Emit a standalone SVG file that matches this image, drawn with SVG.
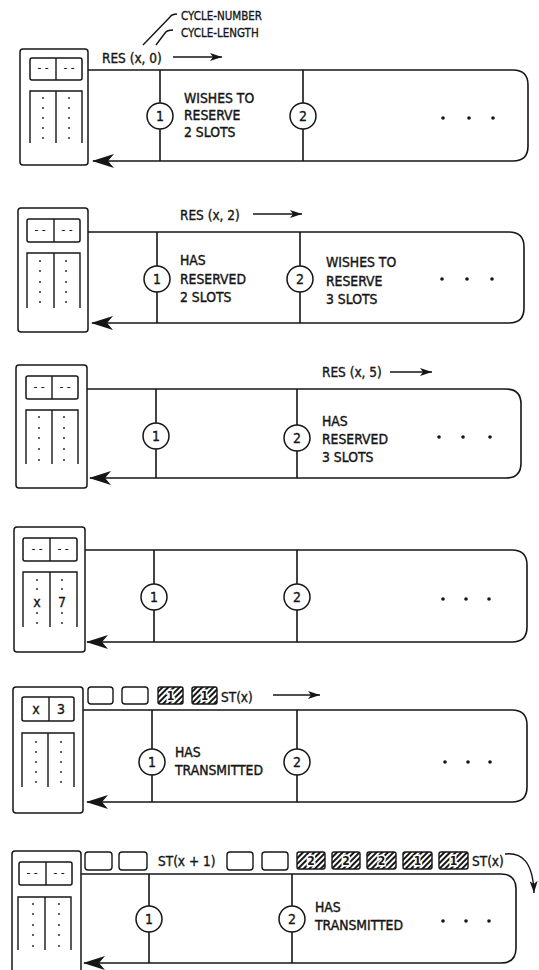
<svg xmlns="http://www.w3.org/2000/svg" width="539" height="970" viewBox="0 0 539 970">
<defs>
<style>
.ln{stroke:#161616;stroke-width:1.6;fill:none}
.bx{stroke:#161616;stroke-width:1.5;fill:#fff}
.cl{stroke:#161616;stroke-width:1.4;fill:none}
.st{stroke:#161616;stroke-width:1.5;fill:#fff}
.t{font-family:"Liberation Sans Narrow","DejaVu Sans Condensed","Liberation Sans",sans-serif;font-size:13.8px;fill:#161616;stroke:#161616;stroke-width:0.4;font-stretch:condensed}
.r{font-family:"Liberation Sans Narrow","DejaVu Sans Condensed","Liberation Sans",sans-serif;font-size:13.5px;fill:#161616;stroke:#161616;stroke-width:0.35;font-stretch:condensed}
.s{font-family:"Liberation Sans Narrow","DejaVu Sans Condensed","Liberation Sans",sans-serif;font-size:11.5px;fill:#161616;stroke:#161616;stroke-width:0.3;font-stretch:condensed}
.d{font-family:"DejaVu Sans Condensed","Liberation Sans",sans-serif;font-size:12px;fill:#161616;text-anchor:middle}
.n{font-family:"Liberation Sans Narrow","DejaVu Sans Condensed","Liberation Sans",sans-serif;font-size:14px;fill:#161616;stroke:#161616;stroke-width:0.35;text-anchor:middle;font-stretch:condensed}
.hn{font-family:"Liberation Sans Narrow","DejaVu Sans Condensed","Liberation Sans",sans-serif;font-size:12px;font-weight:bold;fill:#161616;text-anchor:middle;stroke:#fff;stroke-width:3;paint-order:stroke;font-stretch:condensed}
.dot{fill:#161616}
.slot{stroke:#161616;stroke-width:1.4;fill:#fff}
.hs{stroke:#161616;stroke-width:1.4;fill:url(#hatch)}
</style>
<pattern id="hatch" patternUnits="userSpaceOnUse" width="4" height="4" patternTransform="rotate(45)">
<rect width="4" height="4" fill="#fff"/>
<line x1="1" y1="0" x2="1" y2="4" stroke="#161616" stroke-width="2"/>
</pattern>
<marker id="ah" viewBox="0 0 22 14" refX="21" refY="7" markerWidth="22" markerHeight="14" markerUnits="userSpaceOnUse" orient="auto">
<path d="M0,0 L22,7 L0,14 L6,7 Z" fill="#161616"/>
</marker>
<marker id="sa" viewBox="0 0 12 8" refX="12" refY="4" markerWidth="12" markerHeight="8" markerUnits="userSpaceOnUse" orient="auto">
<path d="M0,0 L12,4 L0,8 L3,4 Z" fill="#161616"/>
</marker>
</defs>
<rect width="539" height="970" fill="#fff"/>

<!-- connectors -->
<g id="connectors">
<path class="ln" d="M82,70 H513 Q528,70 528,85 V146 Q528,161 513,161 H93" marker-end="url(#ah)"/>
<path class="ln" d="M80,232 H509 Q524,232 524,247 V308 Q524,323 509,323 H92" marker-end="url(#ah)"/>
<path class="ln" d="M78,389 H506 Q521,389 521,404 V463 Q521,478 506,478 H90" marker-end="url(#ah)"/>
<path class="ln" d="M77,550 H512 Q527,550 527,565 V627 Q527,642 512,642 H87" marker-end="url(#ah)"/>
<path class="ln" d="M74,710 H512 Q527,710 527,725 V787 Q527,802 512,802 H87" marker-end="url(#ah)"/>
<path class="ln" d="M72,874 H501 Q516,874 516,889 V948 Q516,963 501,963 H84" marker-end="url(#ah)"/>
<!-- station taps -->
<path class="ln" d="M160,70 V161 M303,70 V161"/>
<path class="ln" d="M157,232 V323 M300,232 V323"/>
<path class="ln" d="M156,389 V478 M297,389 V478"/>
<path class="ln" d="M154,550 V642 M297,550 V642"/>
<path class="ln" d="M152,710 V802 M297,710 V802"/>
<path class="ln" d="M149,874 V963 M292,874 V963"/>
<!-- message arrows -->
<path class="cl" d="M173,57 H222" marker-end="url(#sa)"/>
<path class="cl" d="M253,214 H302" marker-end="url(#sa)"/>
<path class="cl" d="M390,372 H432" marker-end="url(#sa)"/>
<path class="cl" d="M273,695 H320" marker-end="url(#sa)"/>
<path class="cl" d="M505,854 C522,852 533,862 534,893" marker-end="url(#sa)"/>
<!-- leader lines -->
<path class="cl" d="M143,45 L170,17 Q172,14 177,14"/>
<path class="cl" d="M156,45 L165,33 Q167,30 173,30"/>
</g>

<!-- labels -->
<g id="labels">
<text class="s" x="181" y="20">CYCLE-NUMBER</text>
<text class="s" x="181" y="37">CYCLE-LENGTH</text>
<text class="r" x="102" y="63">RES (x, 0)</text>
<text class="r" x="180" y="220">RES (x, 2)</text>
<text class="r" x="322" y="377">RES (x, 5)</text>
<text class="r" x="221" y="702">ST(x)</text>
<text class="r" x="158" y="866">ST(x + 1)</text>
<text class="r" x="472" y="866">ST(x)</text>
</g>

<!-- panel 1 -->
<g id="p1-controller">
<rect class="bx" x="20" y="49" width="68" height="116" rx="3"/>
<rect class="bx" x="30" y="58" width="52" height="22" rx="2"/>
<line class="cl" x1="56" y1="58" x2="56" y2="80"/>
<text class="d" x="43" y="72">- -</text>
<text class="d" x="69" y="72">- -</text>
<path class="cl" d="M30,143 V91 H82 V143 M56,91 V143"/>
<g class="dot"><circle cx="43" cy="98" r="0.9"/><circle cx="43" cy="108" r="0.9"/><circle cx="43" cy="118" r="0.9"/><circle cx="43" cy="128" r="0.9"/><circle cx="43" cy="138" r="0.9"/><circle cx="69" cy="98" r="0.9"/><circle cx="69" cy="108" r="0.9"/><circle cx="69" cy="118" r="0.9"/><circle cx="69" cy="128" r="0.9"/><circle cx="69" cy="138" r="0.9"/></g>
</g>
<g id="p1-station1">
<circle class="st" cx="160" cy="116" r="13"/>
<text class="n" x="160" y="121">1</text>
<text class="t" x="184" y="103">WISHES TO</text>
<text class="t" x="184" y="120">RESERVE</text>
<text class="t" x="184" y="137">2 SLOTS</text>
</g>
<g id="p1-station2">
<circle class="st" cx="303" cy="116" r="13"/>
<text class="n" x="303" y="121">2</text>
</g>
<g id="p1-more" class="dot"><circle cx="443" cy="118" r="1.8"/><circle cx="469" cy="118" r="1.8"/><circle cx="493" cy="118" r="1.8"/></g>

<!-- panel 2 -->
<g id="p2-controller">
<rect class="bx" x="18" y="208" width="70" height="124" rx="3"/>
<rect class="bx" x="27" y="219" width="53" height="23" rx="2"/>
<line class="cl" x1="54" y1="219" x2="54" y2="242"/>
<text class="d" x="40" y="234">- -</text>
<text class="d" x="67" y="234">- -</text>
<path class="cl" d="M27,308 V253 H80 V308 M54,253 V308"/>
<g class="dot"><circle cx="40" cy="261" r="0.9"/><circle cx="40" cy="271" r="0.9"/><circle cx="40" cy="282" r="0.9"/><circle cx="40" cy="292" r="0.9"/><circle cx="40" cy="302" r="0.9"/><circle cx="66" cy="261" r="0.9"/><circle cx="66" cy="271" r="0.9"/><circle cx="66" cy="282" r="0.9"/><circle cx="66" cy="292" r="0.9"/><circle cx="66" cy="302" r="0.9"/></g>
</g>
<g id="p2-station1">
<circle class="st" cx="157" cy="279" r="13"/>
<text class="n" x="157" y="284">1</text>
<text class="t" x="180" y="265">HAS</text>
<text class="t" x="180" y="284">RESERVED</text>
<text class="t" x="180" y="302">2 SLOTS</text>
</g>
<g id="p2-station2">
<circle class="st" cx="300" cy="279" r="13"/>
<text class="n" x="300" y="284">2</text>
<text class="t" x="326" y="267">WISHES TO</text>
<text class="t" x="326" y="286">RESERVE</text>
<text class="t" x="326" y="304">3 SLOTS</text>
</g>
<g id="p2-more" class="dot"><circle cx="442" cy="279" r="1.8"/><circle cx="467" cy="279" r="1.8"/><circle cx="492" cy="279" r="1.8"/></g>

<!-- panel 3 -->
<g id="p3-controller">
<rect class="bx" x="16" y="365" width="71" height="123" rx="3"/>
<rect class="bx" x="26" y="376" width="52" height="23" rx="2"/>
<line class="cl" x1="52" y1="376" x2="52" y2="399"/>
<text class="d" x="39" y="391">- -</text>
<text class="d" x="65" y="391">- -</text>
<path class="cl" d="M26,464 V410 H78 V464 M52,410 V464"/>
<g class="dot"><circle cx="39" cy="417" r="0.9"/><circle cx="39" cy="428" r="0.9"/><circle cx="39" cy="438" r="0.9"/><circle cx="39" cy="449" r="0.9"/><circle cx="39" cy="460" r="0.9"/><circle cx="64" cy="417" r="0.9"/><circle cx="64" cy="428" r="0.9"/><circle cx="64" cy="438" r="0.9"/><circle cx="64" cy="449" r="0.9"/><circle cx="64" cy="460" r="0.9"/></g>
</g>
<g id="p3-station1">
<circle class="st" cx="156" cy="436" r="13"/>
<text class="n" x="156" y="441">1</text>
</g>
<g id="p3-station2">
<circle class="st" cx="297" cy="438" r="13"/>
<text class="n" x="297" y="443">2</text>
<text class="t" x="322" y="426">HAS</text>
<text class="t" x="322" y="444">RESERVED</text>
<text class="t" x="322" y="462">3 SLOTS</text>
</g>
<g id="p3-more" class="dot"><circle cx="439" cy="437" r="1.8"/><circle cx="463" cy="437" r="1.8"/><circle cx="490" cy="437" r="1.8"/></g>

<!-- panel 4 -->
<g id="p4-controller">
<rect class="bx" x="14" y="527" width="71" height="125" rx="3"/>
<rect class="bx" x="23" y="538" width="54" height="23" rx="2"/>
<line class="cl" x1="50" y1="538" x2="50" y2="561"/>
<text class="d" x="37" y="553">- -</text>
<text class="d" x="63" y="553">- -</text>
<path class="cl" d="M23,627 V572 H77 V627 M50,572 V627"/>
<g class="dot"><circle cx="37" cy="580" r="0.9"/><circle cx="37" cy="589" r="0.9"/><circle cx="37" cy="613" r="0.9"/><circle cx="37" cy="623" r="0.9"/><circle cx="62" cy="580" r="0.9"/><circle cx="62" cy="589" r="0.9"/><circle cx="62" cy="613" r="0.9"/><circle cx="62" cy="623" r="0.9"/></g>
<text class="n" x="37" y="607">x</text>
<text class="n" x="62" y="607">7</text>
</g>
<g id="p4-station1">
<circle class="st" cx="154" cy="597" r="13"/>
<text class="n" x="154" y="602">1</text>
</g>
<g id="p4-station2">
<circle class="st" cx="297" cy="597" r="13"/>
<text class="n" x="297" y="602">2</text>
</g>
<g id="p4-more" class="dot"><circle cx="443" cy="599" r="1.8"/><circle cx="466" cy="599" r="1.8"/><circle cx="489" cy="599" r="1.8"/></g>

<!-- panel 5 -->
<g id="p5-controller">
<rect class="bx" x="13" y="687" width="70" height="126" rx="3"/>
<rect class="bx" x="22" y="697" width="52" height="24" rx="2"/>
<line class="cl" x1="49" y1="697" x2="49" y2="721"/>
<text class="n" x="36" y="714">x</text>
<text class="n" x="61" y="714">3</text>
<path class="cl" d="M22,787 V733 H74 V787 M48,733 V787"/>
<g class="dot"><circle cx="36" cy="742" r="0.9"/><circle cx="36" cy="752" r="0.9"/><circle cx="36" cy="762" r="0.9"/><circle cx="36" cy="772" r="0.9"/><circle cx="36" cy="782" r="0.9"/><circle cx="61" cy="742" r="0.9"/><circle cx="61" cy="752" r="0.9"/><circle cx="61" cy="762" r="0.9"/><circle cx="61" cy="772" r="0.9"/><circle cx="61" cy="782" r="0.9"/></g>
</g>
<g id="p5-slots">
<rect class="slot" x="88" y="687" width="25" height="17" rx="3"/>
<rect class="slot" x="122" y="687" width="26" height="17" rx="3"/>
<rect class="hs" x="158" y="687" width="25" height="17" rx="2"/>
<text class="hn" x="170.5" y="700">1</text>
<rect class="hs" x="192" y="687" width="25" height="17" rx="2"/>
<text class="hn" x="204.5" y="700">1</text>
</g>
<g id="p5-station1">
<circle class="st" cx="152" cy="762" r="13"/>
<text class="n" x="152" y="767">1</text>
<text class="t" x="175" y="757">HAS</text>
<text class="t" x="175" y="775">TRANSMITTED</text>
</g>
<g id="p5-station2">
<circle class="st" cx="297" cy="762" r="13"/>
<text class="n" x="297" y="767">2</text>
</g>
<g id="p5-more" class="dot"><circle cx="445" cy="762" r="1.8"/><circle cx="468" cy="762" r="1.8"/><circle cx="490" cy="762" r="1.8"/></g>

<!-- panel 6 -->
<g id="p6-controller">
<rect class="bx" x="12" y="851" width="69" height="130" rx="3"/>
<rect class="bx" x="19" y="862" width="53" height="23" rx="2"/>
<line class="cl" x1="46" y1="862" x2="46" y2="885"/>
<text class="d" x="32" y="877">- -</text>
<text class="d" x="59" y="877">- -</text>
<path class="cl" d="M18,950 V897 H71 V950 M45,897 V950"/>
<g class="dot"><circle cx="33" cy="904" r="0.9"/><circle cx="33" cy="914" r="0.9"/><circle cx="33" cy="925" r="0.9"/><circle cx="33" cy="935" r="0.9"/><circle cx="33" cy="946" r="0.9"/><circle cx="59" cy="904" r="0.9"/><circle cx="59" cy="914" r="0.9"/><circle cx="59" cy="925" r="0.9"/><circle cx="59" cy="935" r="0.9"/><circle cx="59" cy="946" r="0.9"/></g>
</g>
<g id="p6-slots">
<rect class="slot" x="85" y="852" width="27" height="18" rx="3"/>
<rect class="slot" x="119" y="852" width="28" height="18" rx="3"/>
<rect class="slot" x="227" y="852" width="26" height="18" rx="3"/>
<rect class="slot" x="262" y="852" width="26" height="18" rx="3"/>
<rect class="hs" x="297" y="852" width="28" height="17" rx="2"/>
<text class="hn" x="311" y="865">2</text>
<rect class="hs" x="332" y="852" width="28" height="17" rx="2"/>
<text class="hn" x="346" y="865">2</text>
<rect class="hs" x="367" y="852" width="29" height="17" rx="2"/>
<text class="hn" x="381.5" y="865">2</text>
<rect class="hs" x="403" y="852" width="29" height="17" rx="2"/>
<text class="hn" x="417.5" y="865">1</text>
<rect class="hs" x="439" y="852" width="29" height="17" rx="2"/>
<text class="hn" x="453.5" y="865">1</text>
</g>
<g id="p6-station1">
<circle class="st" cx="149" cy="919" r="13"/>
<text class="n" x="149" y="924">1</text>
</g>
<g id="p6-station2">
<circle class="st" cx="292" cy="919" r="13"/>
<text class="n" x="292" y="924">2</text>
<text class="t" x="315" y="912">HAS</text>
<text class="t" x="315" y="930">TRANSMITTED</text>
</g>
<g id="p6-more" class="dot"><circle cx="443" cy="921" r="1.8"/><circle cx="466" cy="921" r="1.8"/><circle cx="489" cy="921" r="1.8"/></g>
</svg>
